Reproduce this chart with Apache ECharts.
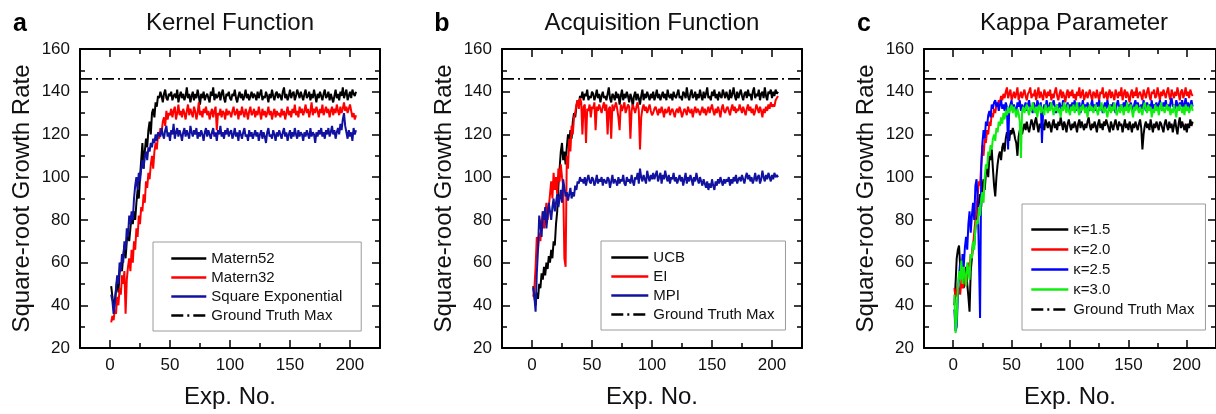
<!DOCTYPE html>
<html>
<head>
<meta charset="utf-8">
<script src="https://cdn.jsdelivr.net/npm/echarts@6/dist/echarts.min.js"></script>
<style>
html,body{margin:0;padding:0;background:#fff;}
#chart{width:1216px;height:414px;}
</style>
</head>
<body>
<div id="chart"></div>
<script>
// ---------------- DATA ----------------
const panelTitles = ['Kernel Function', 'Acquisition Function', 'Kappa Parameter'];
const panelLetters = ['a', 'b', 'c'];
const xMin = -25, xMax = 225;
const xMajorTicks = [0, 50, 100, 150, 200];
const xMinorTicks = [25, 75, 125, 175];
const yMin = 20, yMax = 160, yInterval = 20;
const groundTruthMax = 146;

// Panel a: Kernel Function
const aMatern52 = [49,44,40,42,47,52,46,55,60,56,63,68,62,70,74,70,76,82,78,84,
80,88,94,90,100,108,116,104,112,118,114,122,126,120,130,132,128,135,133,138,
137,140,138,135,139,141,137,136,139,138,140,136,138,139,137,141,135,138,140,137,
139,136,138,142,137,139,135,138,140,136,139,137,141,138,134,139,137,140,136,138,
139,137,135,140,138,142,136,139,137,138,140,136,139,141,137,135,139,138,140,137,
136,139,138,141,137,135,138,140,137,139,136,138,141,137,139,136,138,140,137,139,
138,136,140,137,139,141,136,138,137,140,138,135,139,137,141,138,136,139,140,137,
139,138,136,140,142,137,139,136,138,141,137,139,140,136,138,141,139,137,140,138,
136,139,141,137,138,140,136,139,137,141,138,135,139,137,140,138,136,139,141,137,
138,140,136,139,137,135,138,141,137,139,136,140,138,142,137,139,141,136,138,140,
137,141,139,138,140];
const aMatern32 = [32,35,33,38,36,44,40,48,45,54,50,56,36,52,58,62,56,66,60,70,
66,76,72,82,78,86,84,92,88,98,95,102,99,106,110,104,112,116,113,120,
118,123,121,126,128,124,131,127,130,129,132,128,131,133,127,130,134,129,131,128,
132,130,127,131,134,129,132,130,128,133,131,127,130,135,129,131,128,132,130,133,
129,131,127,130,132,128,131,133,122,130,129,132,128,131,130,127,132,129,131,130,
128,131,133,129,130,132,127,131,129,133,130,128,132,130,127,131,133,129,130,132,
128,131,129,133,130,127,132,129,131,128,130,133,129,131,127,130,132,128,131,129,
130,128,132,129,131,127,130,133,129,131,128,132,130,134,129,131,128,133,130,132,
129,131,134,130,132,128,131,135,129,132,130,133,131,128,132,130,134,129,131,133,
130,132,128,131,133,129,132,130,134,131,129,133,130,132,135,131,133,130,132,134,
131,128,130,127,129];
const aSquareExp = [45,42,36,40,48,54,50,60,56,64,60,70,66,76,72,82,78,84,80,90,
96,100,94,102,98,104,108,104,110,112,108,114,112,116,114,118,116,120,117,121,
121,119,123,120,118,122,124,119,121,117,122,120,125,118,121,123,119,122,120,117,
121,123,119,122,120,118,124,121,119,122,120,123,118,121,119,122,120,117,121,123,
119,122,120,118,121,123,119,121,117,122,120,124,119,121,118,122,120,123,119,121,
122,118,120,123,119,121,117,122,120,118,121,123,119,120,117,122,119,121,118,120,
122,119,121,117,120,122,118,121,119,116,121,123,119,120,118,122,120,117,121,119,
122,120,118,121,123,119,121,117,120,122,118,121,119,123,120,118,122,119,121,120,
117,121,119,122,120,118,123,119,121,120,116,121,119,122,120,123,119,121,118,122,
120,123,119,121,124,120,122,118,121,123,120,125,122,127,130,124,121,118,122,119,
121,117,123,120,122];

// Panel b: Acquisition Function
const bUCB = [49,44,40,46,43,50,48,55,52,58,54,60,57,63,60,66,62,70,68,78,
84,96,104,112,116,108,112,106,114,120,116,122,118,126,130,128,133,136,134,138,
137,140,136,139,138,141,136,138,137,140,139,136,138,141,137,139,135,138,140,137,
138,136,139,142,137,135,139,138,136,140,137,139,134,138,141,136,139,137,140,138,
135,139,137,133,138,140,136,139,137,134,138,141,136,139,137,140,138,136,139,137,
140,136,138,141,137,139,136,138,140,137,139,136,141,138,137,139,136,140,138,137,
139,141,137,138,136,140,139,137,142,138,136,139,141,137,138,140,136,139,137,141,
138,136,140,137,139,142,137,138,136,140,138,141,137,139,136,140,138,137,141,139,
137,140,138,136,141,137,139,142,138,136,140,137,139,141,138,136,139,140,137,141,
138,139,136,140,142,137,139,138,141,136,139,140,137,142,138,136,140,139,141,137,
140,138,141,139,140];
const bEI = [44,48,58,72,66,74,70,78,84,76,82,88,80,86,92,98,90,102,94,100,
92,104,98,106,100,96,62,58,110,104,118,112,124,120,128,130,134,136,132,137,
135,120,133,134,116,132,131,134,128,133,132,135,122,133,131,134,132,130,133,135,
131,134,120,132,133,118,134,131,133,135,132,128,122,134,131,133,135,130,132,134,
133,118,131,134,132,130,133,135,131,113,128,132,134,131,133,130,132,134,131,129,
130,132,133,131,129,132,130,133,131,128,132,130,131,133,129,131,132,130,128,131,
132,130,133,131,128,130,132,131,129,133,131,130,132,128,131,133,130,132,131,129,
131,133,130,132,129,131,133,130,132,134,131,129,132,130,133,131,128,132,134,131,
130,132,133,131,129,132,134,131,133,130,132,131,134,132,130,133,131,129,132,134,
131,133,130,132,129,131,134,132,130,133,131,128,132,130,133,131,134,132,135,133,
134,133,136,137,138];
const bMPI = [48,44,37,55,66,82,78,72,84,80,86,76,82,88,84,80,86,90,84,88,
92,86,90,94,88,99,95,91,93,89,92,95,90,93,91,96,94,98,97,100,
98,99,97,100,96,99,101,98,97,100,99,96,98,101,97,99,98,100,96,99,
98,97,100,99,95,98,101,97,99,98,96,100,97,99,98,101,97,96,100,98,
99,97,101,98,96,100,99,102,97,104,100,98,101,99,97,103,100,98,101,99,
102,99,101,103,98,100,102,97,101,99,103,100,98,101,97,100,99,102,98,100,
97,99,101,98,100,96,99,102,97,100,98,101,99,96,100,98,102,99,97,100,
98,96,99,97,95,98,94,97,95,99,96,94,98,96,99,97,100,98,96,99,
97,99,98,100,96,99,97,100,98,101,97,99,100,98,101,99,97,100,102,99,
101,98,100,97,99,102,98,100,101,97,99,103,100,98,101,99,102,100,98,101,
99,102,100,101,100];

// Panel c: Kappa Parameter
const cK15 = [40,50,62,66,68,58,52,56,48,54,58,50,44,37,56,62,70,68,76,80,
84,88,92,86,96,99,94,102,106,100,110,108,113,104,96,91,100,106,110,112,
108,114,116,112,118,121,119,117,122,120,123,121,118,116,110,119,122,124,120,123,
125,122,126,123,121,124,127,125,122,126,128,124,121,125,123,126,124,122,127,125,
123,126,124,121,125,127,123,125,122,126,124,128,125,122,126,124,121,125,127,124,
122,125,123,126,124,121,125,127,123,126,124,122,125,123,126,128,124,122,125,123,
126,124,121,125,127,123,125,122,126,124,127,125,123,121,126,124,122,125,127,124,
122,126,124,125,121,124,127,123,125,122,126,124,121,125,123,126,124,122,125,127,
123,113,120,124,126,123,125,122,127,124,121,125,123,126,124,122,126,125,123,121,
125,127,124,122,126,123,125,121,124,127,123,120,125,128,123,126,124,122,125,121,
125,123,127,124,126];
const cK20 = [48,44,46,50,47,45,52,48,50,53,49,56,60,58,64,62,68,74,80,86,
92,98,96,106,115,110,118,116,122,120,126,124,130,128,132,130,134,133,136,135,
138,136,139,137,140,142,137,139,141,136,138,140,137,139,142,136,138,140,137,139,
141,138,136,139,140,142,137,139,138,141,136,139,142,137,140,138,136,141,139,137,
140,138,141,136,139,137,140,142,138,136,139,141,137,140,138,135,139,141,137,140,
138,141,137,139,136,140,138,142,137,139,141,136,138,140,137,139,141,138,136,140,
139,137,141,138,136,140,139,142,137,138,140,136,139,141,137,140,138,136,141,139,
137,140,138,142,136,139,141,137,140,138,135,139,141,137,140,138,142,137,139,140,
138,136,141,139,137,140,142,138,136,140,139,141,137,138,142,139,136,140,138,141,
139,137,140,142,138,136,141,139,137,140,138,142,139,136,140,141,137,139,142,138,
140,137,141,139,138];
const cK25 = [38,28,30,44,54,60,53,64,58,67,72,66,78,84,74,82,88,80,96,99,
90,64,34,104,116,122,118,126,124,129,131,128,134,132,135,136,133,135,131,134,
136,132,134,131,135,133,113,132,134,136,131,134,132,130,135,133,136,131,134,132,
133,135,131,134,136,132,133,130,135,133,131,136,134,132,135,116,131,134,132,136,
133,131,135,132,134,136,133,130,134,132,135,133,131,136,134,132,133,135,131,134,
132,135,133,136,131,134,132,135,130,133,136,132,134,131,135,133,131,134,136,132,
134,131,135,133,136,132,134,130,133,135,132,136,133,131,134,132,135,133,130,134,
136,133,131,134,132,135,133,136,131,134,132,135,133,130,134,136,132,135,133,131,
134,132,136,133,131,135,133,134,132,136,131,134,133,135,132,134,136,133,131,135,
133,136,132,134,131,135,137,133,134,132,136,134,131,135,133,136,132,134,137,133,
135,132,134,136,133];
const cK30 = [45,27,34,48,56,52,61,50,58,54,49,60,56,52,64,62,70,66,76,80,
78,86,82,90,93,88,100,106,104,112,110,115,113,118,120,117,123,121,126,124,
128,125,130,127,131,129,133,130,132,134,130,133,131,128,132,130,126,109,131,133,
130,132,134,131,129,133,131,135,132,130,133,128,132,134,130,133,131,129,134,132,
130,133,131,135,132,129,133,131,134,130,132,128,133,131,135,132,130,134,131,129,
133,131,134,130,132,135,131,129,133,131,134,132,130,133,128,132,134,131,133,130,
132,134,131,129,133,131,135,132,130,133,131,128,132,134,130,133,131,135,132,129,
131,133,130,134,132,129,133,131,135,130,132,134,131,128,133,131,134,132,130,133,
131,129,133,135,132,130,134,131,133,128,132,130,134,131,133,129,132,135,131,133,
130,132,134,131,133,129,132,130,134,131,128,133,131,134,132,130,133,129,134,131,
133,130,132,134,131];

const panelSeries = [
  [ {name:'Matern52', data:aMatern52, color:'#000000'},
    {name:'Matern32', data:aMatern32, color:'#ff0000'},
    {name:'Square Exponential', data:aSquareExp, color:'#1212a0'} ],
  [ {name:'UCB', data:bUCB, color:'#000000'},
    {name:'EI', data:bEI, color:'#ff0000'},
    {name:'MPI', data:bMPI, color:'#1212a0'} ],
  [ {name:'κ=1.5', data:cK15, color:'#000000'},
    {name:'κ=2.0', data:cK20, color:'#ff0000'},
    {name:'κ=2.5', data:cK25, color:'#0000ff'},
    {name:'κ=3.0', data:cK30, color:'#10ee10'} ]
];
const gtName = 'Ground Truth Max';

// ---------------- LAYOUT / STYLE ----------------
const FONT = '"Liberation Sans", Arial, Helvetica, sans-serif';
const gridLefts = [80, 502, 924];
const gridTop = 49, gridW = 300, gridH = 301;
const legendBoxes = [
  {left:153, top:242, padding:[9,19,8,17], itemWidth:35, itemGap:4},
  {left:601, top:241, padding:[9,11,8,9], itemWidth:37, itemGap:4},
  {left:1022, top:204, padding:[18,11,13,8], itemWidth:37, itemGap:5}
];

const grids = [], xAxes = [], yAxes = [], series = [], legends = [], graphics = [];
const axisLineStyle = {color:'#000', width:2};
const tickStyle = {color:'#000', width:1.5};

gridLefts.forEach((left, g) => {
  grids.push({left:left, top:gridTop, width:gridW, height:gridH, containLabel:false});
  const baseX = {type:'value', gridIndex:g, min:xMin, max:xMax, splitLine:{show:false}};
  xAxes.push(Object.assign({}, baseX, {
    position:'bottom',
    axisLine:{show:true, onZero:false, lineStyle:axisLineStyle},
    axisTick:{show:true, inside:true, length:8, lineStyle:tickStyle, customValues:xMajorTicks},
    axisLabel:{show:true, customValues:xMajorTicks, fontSize:17, color:'#111', fontFamily:FONT, margin:9},
    name:'Exp. No.', nameLocation:'middle', nameGap:37,
    nameTextStyle:{fontSize:24, color:'#111', fontFamily:FONT}
  }));
  xAxes.push(Object.assign({}, baseX, {
    position:'bottom',
    axisLine:{show:false, onZero:false},
    axisTick:{show:true, inside:true, length:5, lineStyle:tickStyle, customValues:xMinorTicks},
    axisLabel:{show:false}
  }));
  xAxes.push(Object.assign({}, baseX, {
    position:'top',
    axisLine:{show:true, onZero:false, lineStyle:axisLineStyle},
    axisTick:{show:true, inside:true, length:8, lineStyle:tickStyle, customValues:xMajorTicks},
    axisLabel:{show:false}
  }));
  xAxes.push(Object.assign({}, baseX, {
    position:'top',
    axisLine:{show:false, onZero:false},
    axisTick:{show:true, inside:true, length:5, lineStyle:tickStyle, customValues:xMinorTicks},
    axisLabel:{show:false}
  }));
  const baseY = {type:'value', gridIndex:g, min:yMin, max:yMax, interval:yInterval, splitLine:{show:false},
    axisLine:{show:true, onZero:false, lineStyle:axisLineStyle},
    axisTick:{show:true, inside:true, length:8, lineStyle:tickStyle},
    minorTick:{show:true, splitNumber:2, length:5, lineStyle:tickStyle}};
  yAxes.push(Object.assign({}, baseY, {
    position:'left',
    axisLabel:{show:true, fontSize:17, color:'#111', fontFamily:FONT, margin:10},
    name:'Square-root Growth Rate', nameLocation:'middle', nameGap:46,
    nameTextStyle:{fontSize:24, color:'#111', fontFamily:FONT}
  }));
  yAxes.push(Object.assign({}, baseY, {position:'right', axisLabel:{show:false}}));

  const names = [];
  panelSeries[g].forEach(s => {
    names.push(s.name);
    series.push({
      name:s.name, type:'line', xAxisIndex:4*g, yAxisIndex:2*g,
      data:s.data.map((v,i)=>[i+1, v]),
      showSymbol:false, symbol:'none',
      lineStyle:{color:s.color, width:2}, itemStyle:{color:s.color},
      silent:true, z:2
    });
  });
  names.push(gtName);
  series.push({
    name:gtName, type:'line', xAxisIndex:4*g, yAxisIndex:2*g,
    data:[[xMin, groundTruthMax],[xMax, groundTruthMax]],
    showSymbol:false, symbol:'none',
    lineStyle:{color:'#000', width:1.6, type:[12,4,2,4]}, itemStyle:{color:'#000'},
    silent:true, z:3
  });
  const lb = legendBoxes[g];
  legends.push({
    orient:'vertical', left:lb.left, top:lb.top, padding:lb.padding,
    itemWidth:lb.itemWidth, itemHeight:14, itemGap:lb.itemGap,
    borderColor:'#9a9a9a', borderWidth:1, backgroundColor:'#fff',
    itemStyle:{color:'rgba(0,0,0,0)', borderWidth:0, opacity:0},
    lineStyle:{width:2.6},
    selectedMode:false, data:names.map(n=>({name:n})),
    textStyle:{fontSize:15, color:'#111', fontFamily:FONT, lineHeight:15}
  });
  graphics.push({type:'text', x:left + gridW/2, y:23, style:{text:panelTitles[g], fontSize:24, fontFamily:FONT, fill:'#111', textAlign:'center', textVerticalAlign:'middle'}});
  graphics.push({type:'text', x:left - 60, y:24, style:{text:panelLetters[g], fontSize:25, fontWeight:'bold', fontFamily:FONT, fill:'#000', textAlign:'center', textVerticalAlign:'middle'}});
});

const chart = echarts.init(document.getElementById('chart'), null, {renderer:'canvas'});
chart.setOption({
  animation:false,
  backgroundColor:'#fff',
  grid:grids, xAxis:xAxes, yAxis:yAxes, series:series, legend:legends, graphic:graphics
});
</script>
</body>
</html>
